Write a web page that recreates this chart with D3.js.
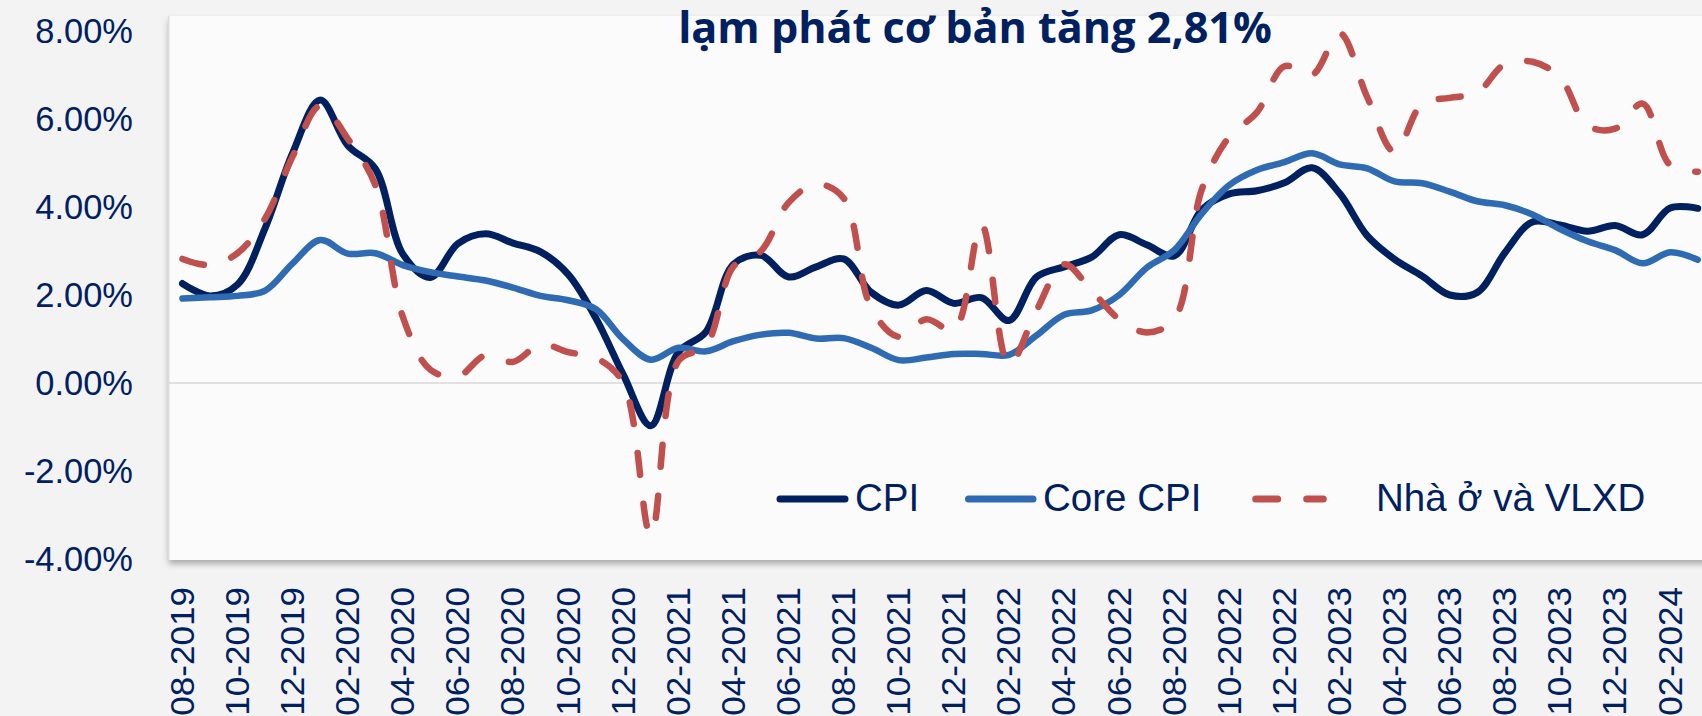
<!DOCTYPE html>
<html>
<head>
<meta charset="utf-8">
<script src="https://cdn.jsdelivr.net/npm/d3@7"></script>
<style>
  html, body { margin: 0; padding: 0; background: #f3f3f4; overflow: hidden; }
  svg { display: block; font-family: "Liberation Sans", Arial, sans-serif; }
</style>
</head>
<body>
<script>
// months on the category axis
var months = [
  "08-2019", "09-2019", "10-2019", "11-2019", "12-2019",
  "01-2020", "02-2020", "03-2020", "04-2020", "05-2020", "06-2020", "07-2020", "08-2020", "09-2020", "10-2020", "11-2020", "12-2020",
  "01-2021", "02-2021", "03-2021", "04-2021", "05-2021", "06-2021", "07-2021", "08-2021", "09-2021", "10-2021", "11-2021", "12-2021",
  "01-2022", "02-2022", "03-2022", "04-2022", "05-2022", "06-2022", "07-2022", "08-2022", "09-2022", "10-2022", "11-2022", "12-2022",
  "01-2023", "02-2023", "03-2023", "04-2023", "05-2023", "06-2023", "07-2023", "08-2023", "09-2023", "10-2023", "11-2023", "12-2023",
  "01-2024", "02-2024", "03-2024"
];

// series, % yoy
var cpi = [
  2.26, 1.98, 2.24, 3.52, 5.23,
  6.43, 5.40, 4.87, 2.93, 2.40, 3.17, 3.39, 3.18, 2.98, 2.47, 1.48, 0.19,
  -0.97, 0.70, 1.16, 2.70, 2.90, 2.41, 2.64, 2.82, 2.06, 1.77, 2.10, 1.81,
  1.94, 1.42, 2.41, 2.64, 2.86, 3.37, 3.14, 2.89, 3.94, 4.30, 4.37, 4.55,
  4.89, 4.31, 3.35, 2.81, 2.43, 2.00, 2.06, 2.96, 3.66, 3.59, 3.45, 3.58,
  3.37, 3.98, 3.97
];
var coreCpi = [
  1.92, 1.95, 1.98, 2.10, 2.72,
  3.25, 2.94, 2.95, 2.68, 2.52, 2.42, 2.33, 2.17, 1.98, 1.88, 1.68, 0.99,
  0.53, 0.80, 0.72, 0.95, 1.10, 1.14, 1.01, 1.02, 0.80, 0.52, 0.58, 0.66,
  0.66, 0.64, 1.08, 1.55, 1.65, 2.00, 2.62, 3.02, 3.85, 4.50, 4.84, 5.02,
  5.22, 4.97, 4.88, 4.58, 4.54, 4.35, 4.13, 4.04, 3.83, 3.50, 3.22, 3.02,
  2.72, 2.97, 2.80
];
var housing = [
  2.82, 2.68, 2.95, 3.74, 5.15,
  6.30, 5.55, 4.50, 1.50, 0.30, 0.15, 0.63, 0.48, 0.88, 0.70, 0.57, 0.00,
  -3.45, 0.50, 0.85, 2.65, 3.00, 4.10, 4.52, 4.20, 1.70, 1.05, 1.45, 1.20,
  3.60, 0.42, 1.65, 2.70, 2.10, 1.45, 1.15, 1.45, 4.40, 5.60, 6.15, 7.20,
  7.00, 7.95, 6.50, 5.25, 6.35, 6.48, 6.60, 7.25, 7.30, 6.95, 5.85, 5.78,
  6.35, 4.95, 4.80
];

var yTicks = [-4, -2, 0, 2, 4, 6, 8];
var seriesNames = ["CPI", "Core CPI", "Nhà ở và VLXD"];
var titleText = "lạm phát cơ bản tăng 2,81%";

var width = 1702, height = 716;
var navy = "#002060", blue = "#2f6bb3", red = "#c0504d";

var svg = d3.select("body").append("svg")
    .attr("width", width)
    .attr("height", height);

var defs = svg.append("defs");
defs.append("filter")
    .attr("id", "shadow")
    .attr("x", "-5%").attr("y", "-5%")
    .attr("width", "110%").attr("height", "115%")
  .append("feDropShadow")
    .attr("dx", 0).attr("dy", 4)
    .attr("stdDeviation", 3)
    .attr("flood-color", "#000")
    .attr("flood-opacity", 0.3);

// scales
var plotLeft = 168.7, plotTop = 16, plotBottom = 560;
var x = d3.scaleBand()
    .domain(months)
    .range([plotLeft, plotLeft + months.length * 27.55])
    .padding(0);
var y = d3.scaleLinear()
    .domain([-4, 8])
    .range([559, 31]);

// plot area
svg.append("rect")
    .attr("x", plotLeft)
    .attr("y", plotTop)
    .attr("width", x.range()[1] - plotLeft)
    .attr("height", plotBottom - plotTop)
    .attr("fill", "#fbfbfb")
    .attr("filter", "url(#shadow)");
svg.append("line")
    .attr("x1", plotLeft).attr("x2", plotLeft)
    .attr("y1", plotTop).attr("y2", plotBottom)
    .attr("stroke", "#dcdcdc")
    .attr("stroke-width", 1.5);

// zero line
svg.append("line")
    .attr("x1", plotLeft).attr("x2", x.range()[1])
    .attr("y1", y(0)).attr("y2", y(0))
    .attr("stroke", "#d9d9d9")
    .attr("stroke-width", 1.6);

// y axis (plain hyphen for negatives, like the source)
var yAxis = svg.append("g")
    .attr("transform", "translate(136,0)")
    .call(d3.axisLeft(y)
        .tickValues(yTicks)
        .tickSize(0)
        .tickPadding(3)
        .tickFormat(function(d) { return (d < 0 ? "-" : "") + Math.abs(d).toFixed(2) + "%"; }));
yAxis.select(".domain").remove();
var yText = yAxis.selectAll("text")
    .attr("fill", navy)
    .style("font-size", "29px")
    .style("font-family", "'Liberation Sans', Arial, sans-serif");
// size labels so "8.00%" is as wide as in the source
var topLabel = yText.filter(function(d) { return d === 8; }).node();
var yfs = 29 * 97.7 / topLabel.getComputedTextLength();
yText.style("font-size", yfs + "px");

// x axis, every second month
var xAxis = svg.append("g")
    .attr("transform", "translate(0,587)")
    .call(d3.axisBottom(x)
        .tickValues(months.filter(function(d, i) { return i % 2 === 0; }))
        .tickSize(0));
xAxis.select(".domain").remove();
xAxis.selectAll("text")
    .attr("fill", navy)
    .attr("x", 0).attr("y", 0)
    .attr("dy", "0.35em")
    .attr("text-anchor", "end")
    .attr("transform", "rotate(-90) scale(1.08,1)")
    .style("font-size", "32.5px")
    .style("font-family", "'Liberation Sans', Arial, sans-serif");

// lines
var cx = function(d, i) { return x(months[i]) + x.bandwidth() / 2; };
var line = d3.line()
    .x(cx)
    .y(function(d) { return y(d); })
    .curve(d3.curveCatmullRom.alpha(0.5));

svg.append("path")
    .datum(cpi)
    .attr("d", line)
    .attr("fill", "none")
    .attr("stroke", navy)
    .attr("stroke-width", 7)
    .attr("stroke-linecap", "round")
    .attr("stroke-linejoin", "round");

svg.append("path")
    .datum(coreCpi)
    .attr("d", line)
    .attr("fill", "none")
    .attr("stroke", blue)
    .attr("stroke-width", 6.5)
    .attr("stroke-linecap", "round")
    .attr("stroke-linejoin", "round");

svg.append("path")
    .datum(housing)
    .attr("d", line)
    .attr("fill", "none")
    .attr("stroke", red)
    .attr("stroke-width", 6.5)
    .attr("stroke-dasharray", "22 29")
    .attr("stroke-linecap", "round")
    .attr("stroke-linejoin", "round");

// legend
var legendItems = [
  {name: seriesNames[0], color: navy, dash: null, x1: 780, x2: 845, tx: 855},
  {name: seriesNames[1], color: blue, dash: null, x1: 968.5, x2: 1033, tx: 1043},
  {name: seriesNames[2], color: red, dash: "22 29", x1: 1255.7, x2: 1323.3, tx: 1376}
];
var legend = svg.append("g");
legendItems.forEach(function(it) {
  legend.append("line")
      .attr("x1", it.x1).attr("x2", it.x2)
      .attr("y1", 499).attr("y2", 499)
      .attr("stroke", it.color)
      .attr("stroke-width", 7)
      .attr("stroke-linecap", "round")
      .attr("stroke-dasharray", it.dash);
  legend.append("text")
      .attr("x", it.tx)
      .attr("y", 510.5)
      .attr("fill", navy)
      .style("font-size", "38.5px")
      .text(it.name);
});

// title (only its second line is in frame, as in the source)
var title = svg.append("text")
    .attr("x", 975)
    .attr("y", 43)
    .attr("text-anchor", "middle")
    .attr("fill", navy)
    .style("font-family", "'Open Sans', sans-serif")
    .style("font-weight", 700)
    .style("font-size", "40px")
    .text(titleText);
var tw = title.node().getComputedTextLength();
title.style("font-size", (40 * 594 / tw) + "px");
</script>
</body>
</html>
